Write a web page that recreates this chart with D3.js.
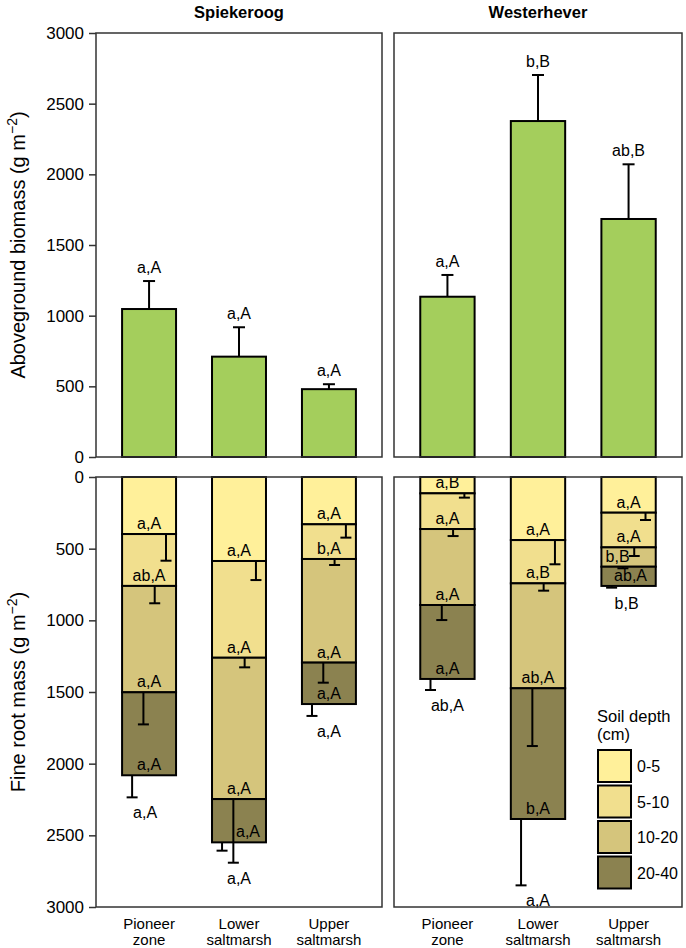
<!DOCTYPE html>
<html lang="en">
<head>
<meta charset="UTF-8">
<title>Biomass and fine root mass</title>
<script src="https://cdn.jsdelivr.net/npm/d3@7"></script>
<style>
  body { margin: 0; background: #fff; }
  svg text { font-family: "Liberation Sans", Arial, sans-serif; fill: #000; }
</style>
</head>
<body>
<div id="chart"></div>
<script>
const sites = ["Spiekeroog", "Westerhever"];
const zones = ["Pioneer zone", "Lower saltmarsh", "Upper saltmarsh"];
const zoneLines = [["Pioneer", "zone"], ["Lower", "saltmarsh"], ["Upper", "saltmarsh"]];
const depths = ["0-5", "5-10", "10-20", "20-40"];
const yTicks = [0, 500, 1000, 1500, 2000, 2500, 3000];

// aboveground biomass, [site][zone]
const aboveMean = [[1047, 710, 480], [1134, 2377, 1684]];
const aboveSE = [[198, 208, 35], [154, 326, 387]];
const aboveLetters = [["a,A", "a,A", "a,A"], ["a,A", "b,B", "ab,B"]];

// fine root mass per depth layer, [site][zone][depth]
const rootMean = [
  [[398, 362, 742, 579], [586, 675, 986, 302], [330, 242, 723, 289]],
  [[114, 249, 530, 516], [440, 302, 732, 912], [249, 242, 135, 134]]
];
const rootSE = [
  [[186, 121, 224, 154], [133, 67, 444, 58], [93, 42, 140, 83]],
  [[30, 49, 105, 77], [169, 51, 403, 463], [51, 60, 11, 12]]
];
const rootLetters = [
  [["a,A", "ab,A", "a,A", "a,A"], ["a,A", "a,A", "a,A", "a,A"], ["a,A", "b,A", "a,A", "a,A"]],
  [["a,B", "a,A", "a,A", "a,A"], ["a,A", "a,B", "ab,A", "b,A"], ["a,A", "a,A", "b,B", "ab,A"]]
];
const totalLetters = [["a,A", "a,A", "a,A"], ["ab,A", "a,A", "b,B"]];

const green = "#a4ce5c";
const depthColors = ["#fff09a", "#f1df8e", "#d5c57c", "#8b8250"];

const W = 686, H = 948;
const panelX = [[96, 382], [394, 682]];
const topY = [33, 457], botY = [477, 907];

const svg = d3.select("#chart").append("svg")
  .attr("width", W).attr("height", H);

const yTop = d3.scaleLinear().domain([0, 3000]).range([topY[1], topY[0]]);
const yBot = d3.scaleLinear().domain([0, 3000]).range([botY[0], botY[1]]);

// small label nudges so letters clear the error bars
const nudge = { "0-1-3": 9, "0-0-t": -4, "1-2-2": -11, "1-2-3": 2, "1-2-t": -2 };

sites.forEach((site, s) => {
  const x = d3.scaleBand().domain(zones)
    .range(panelX[s]).paddingInner(0.4).paddingOuter(0.29);
  const bw = x.bandwidth();
  const cx = z => x(z) + bw / 2;

  // site title
  svg.append("text")
    .attr("x", (panelX[s][0] + panelX[s][1]) / 2).attr("y", 18)
    .attr("text-anchor", "middle")
    .style("font-size", "16.5px").style("font-weight", "bold")
    .text(site);

  // ---- aboveground ----
  const gt = svg.append("g");
  gt.selectAll("line.err").data(zones).join("line")
    .attr("x1", cx).attr("x2", cx)
    .attr("y1", (z, i) => yTop(aboveMean[s][i]))
    .attr("y2", (z, i) => yTop(aboveMean[s][i] + aboveSE[s][i]))
    .attr("stroke", "#000").attr("stroke-width", 2);
  gt.selectAll("line.cap").data(zones).join("line")
    .attr("x1", z => cx(z) - 6).attr("x2", z => cx(z) + 6)
    .attr("y1", (z, i) => yTop(aboveMean[s][i] + aboveSE[s][i]))
    .attr("y2", (z, i) => yTop(aboveMean[s][i] + aboveSE[s][i]))
    .attr("stroke", "#000").attr("stroke-width", 2);
  gt.selectAll("rect").data(zones).join("rect")
    .attr("x", z => x(z)).attr("width", bw)
    .attr("y", (z, i) => yTop(aboveMean[s][i]))
    .attr("height", (z, i) => yTop(0) - yTop(aboveMean[s][i]))
    .attr("fill", green).attr("stroke", "#000").attr("stroke-width", 2);
  gt.selectAll("text").data(zones).join("text")
    .attr("x", cx)
    .attr("y", (z, i) => yTop(aboveMean[s][i] + aboveSE[s][i]) - 8)
    .attr("text-anchor", "middle").style("font-size", "16px")
    .text((z, i) => aboveLetters[s][i]);

  // ---- fine roots ----
  const gb = svg.append("g");
  zones.forEach((z, i) => {
    const vals = rootMean[s][i];
    let cum = 0;
    const segs = vals.map((v, d) => { const a = cum; cum += v; return { d, a, b: cum, se: rootSE[s][i][d] }; });
    gb.selectAll(null).data(segs).join("rect")
      .attr("x", x(z)).attr("width", bw)
      .attr("y", g => yBot(g.a))
      .attr("height", g => yBot(g.b) - yBot(g.a))
      .attr("fill", g => depthColors[g.d])
      .attr("stroke", "#000").attr("stroke-width", 2);
    const ex = g => cx(z) + (1.5 - g.d) * 11.3;
    gb.selectAll(null).data(segs).join("line")
      .attr("x1", ex).attr("x2", ex)
      .attr("y1", g => yBot(g.b)).attr("y2", g => yBot(g.b + g.se))
      .attr("stroke", "#000").attr("stroke-width", 2);
    gb.selectAll(null).data(segs).join("line")
      .attr("x1", g => ex(g) - 5.5).attr("x2", g => ex(g) + 5.5)
      .attr("y1", g => yBot(g.b + g.se)).attr("y2", g => yBot(g.b + g.se))
      .attr("stroke", "#000").attr("stroke-width", 2);
    gb.selectAll(null).data(segs).join("text")
      .attr("x", g => cx(z) + (nudge[`${s}-${i}-${g.d}`] || 0))
      .attr("y", g => yBot(g.b) - 5)
      .attr("text-anchor", "middle").style("font-size", "16px")
      .text(g => rootLetters[s][i][g.d]);
    const low = d3.max(segs, g => g.b + g.se);
    gb.append("text")
      .attr("x", cx(z) + (nudge[`${s}-${i}-t`] || 0))
      .attr("y", yBot(low) + 21)
      .attr("text-anchor", "middle").style("font-size", "16px")
      .text(totalLetters[s][i]);

    // zone labels
    zoneLines[i].forEach((ln, k) => {
      svg.append("text").attr("x", cx(z)).attr("y", 929 + k * 15.5)
        .attr("text-anchor", "middle").style("font-size", "15px").text(ln);
    });
  });

  // frames
  [topY, botY].forEach(yy => {
    svg.append("rect")
      .attr("x", panelX[s][0]).attr("y", yy[0])
      .attr("width", panelX[s][1] - panelX[s][0]).attr("height", yy[1] - yy[0])
      .attr("fill", "none").attr("stroke", "#333").attr("stroke-width", 1.5);
  });
});

// y axes
[yTop, yBot].forEach(sc => {
  const ax = svg.append("g").attr("transform", `translate(${panelX[0][0]},0)`)
    .call(d3.axisLeft(sc).tickValues(yTicks).tickSize(7).tickPadding(5).tickFormat(d3.format("d")));
  ax.select(".domain").remove();
  ax.selectAll("line").attr("stroke", "#333").attr("stroke-width", 1.5);
  ax.selectAll("text").style("font-size", "17px")
    .style("font-family", "'Liberation Sans', Arial, sans-serif");
});

// y titles
function yTitle(text, cy) {
  const t = svg.append("text")
    .attr("transform", `translate(25,${cy}) rotate(-90)`)
    .attr("text-anchor", "middle").style("font-size", "20px");
  t.append("tspan").text(text + " (g m");
  t.append("tspan").attr("dy", -8).style("font-size", "14px").text("\u22122");
  t.append("tspan").attr("dy", 8).text(")");
}
yTitle("Aboveground biomass", (topY[0] + topY[1]) / 2);
yTitle("Fine root mass", (botY[0] + botY[1]) / 2);

// legend
const lg = svg.append("g").attr("transform", "translate(597,722)");
lg.append("text").attr("x", 0).attr("y", 0).style("font-size", "16.5px").text("Soil depth");
lg.append("text").attr("x", 0).attr("y", 18).style("font-size", "16.5px").text("(cm)");
lg.selectAll("rect").data(depths).join("rect")
  .attr("x", 1).attr("y", (d, i) => 28 + i * 35.5)
  .attr("width", 33).attr("height", 32)
  .attr("fill", (d, i) => depthColors[i])
  .attr("stroke", "#000").attr("stroke-width", 2);
lg.selectAll("text.lab").data(depths).join("text")
  .attr("class", "lab")
  .attr("x", 40).attr("y", (d, i) => 28 + i * 35.5 + 22)
  .style("font-size", "16px").text(d => d);
</script>
</body>
</html>
